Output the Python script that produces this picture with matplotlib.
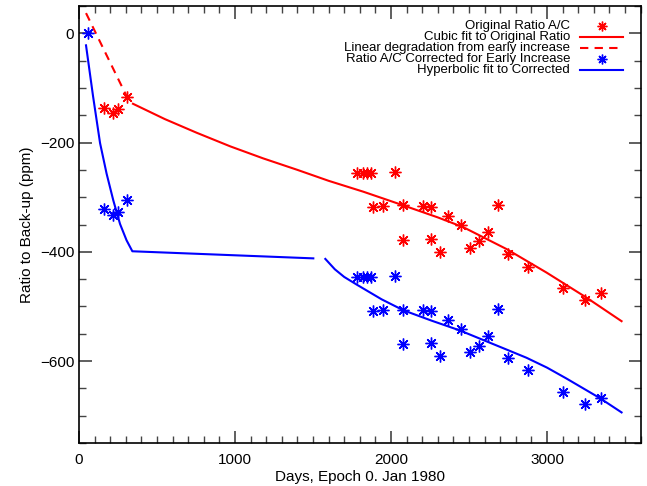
import matplotlib
matplotlib.use("Agg")
import matplotlib.pyplot as plt
from matplotlib.lines import Line2D
from matplotlib.ticker import MultipleLocator

plt.rcParams['font.family'] = ['Liberation Sans', 'DejaVu Sans']

# Original ratio A/C (red stars)
orig_days = [160, 218, 250, 308, 1782, 1821, 1846, 1872, 2027, 1887, 1946, 2075,
             2207, 2256, 2367, 2449, 2688, 2075, 2256, 2316, 2508, 2564, 2624,
             2752, 2876, 3105, 3244, 3346]
orig_ratio = [-136, -145, -138, -116, -256, -256, -256, -256, -254, -318, -317, -315,
              -317, -318, -335, -351, -315, -378, -376, -401, -393, -381, -364,
              -404, -427, -467, -488, -476]

# Corrected ratio (blue stars)
corr_days = [58, 160, 218, 250, 308, 1782, 1821, 1846, 1872, 2027, 1887, 1946, 2075,
             2207, 2256, 2367, 2449, 2688, 2075, 2256, 2316, 2508, 2564, 2624,
             2752, 2876, 3105, 3244, 3346]
corr_ratio = [0, -322, -333, -328, -306, -447, -447, -447, -447, -444, -508, -507, -506,
              -507, -508, -525, -541, -505, -568, -567, -591, -583, -573, -554,
              -595, -617, -657, -678, -668]

# Cubic fit to original ratio (red solid)
cubic_days = [346, 550, 754, 970, 1181, 1400, 1600, 1823, 2079, 2300, 2464, 2741,
              2997, 3254, 3478]
cubic_vals = [-129, -157, -182, -207, -229, -250, -270, -290, -315, -337, -355, -395,
              -438, -484, -527]

# Linear degradation from early increase (red dashed)
lin_days = [45, 305]
lin_vals = [37, -115]

# Hyperbolic fit to corrected (blue solid), two pieces
hyp1_days = [45, 90, 135, 177, 220, 263, 305, 342, 1502]
hyp1_vals = [-22, -115, -201, -257, -306, -349, -379, -399, -412]
hyp2_days = [1579, 1640, 1700, 1780, 1940, 2079, 2260, 2442, 2613, 2750, 2869, 3000,
             3125, 3340, 3478]
hyp2_vals = [-413, -432, -446, -460, -487, -507, -526, -544, -564, -580, -594, -612,
             -632, -668, -694]

W, H = 647, 486
fig = plt.figure(figsize=(W / 100, H / 100), dpi=100)
ax = fig.add_axes([79 / W, (H - 443) / H, (640.6 - 79) / W, (443 - 6) / H])

star = (8, 2, 0)
ax.plot(lin_days, lin_vals, color='red', lw=1.5, ls=(0, (4, 3)))
ax.plot(cubic_days, cubic_vals, color='red', lw=1.5)
ax.plot(hyp1_days, hyp1_vals, color='blue', lw=1.5)
ax.plot(hyp2_days, hyp2_vals, color='blue', lw=1.5)
ax.plot(orig_days, orig_ratio, ls='none', marker=star, ms=8.5, mew=1.0, color='red')
ax.plot(corr_days, corr_ratio, ls='none', marker=star, ms=8.5, mew=1.0, color='blue')

ax.set_xlim(0, 3600)
ax.set_ylim(-750, 50)
ax.xaxis.set_major_locator(MultipleLocator(1000))
ax.xaxis.set_minor_locator(MultipleLocator(100))
ax.yaxis.set_major_locator(MultipleLocator(200))
ax.yaxis.set_minor_locator(MultipleLocator(50))
ax.tick_params(which='both', direction='in', top=True, right=True, labelsize=11, color='#444444')
ax.tick_params(which='major', length=9, width=1.2)
ax.tick_params(which='minor', length=5, width=1.0)
ax.tick_params(axis='x', pad=7)
for s in ax.spines.values():
    s.set_linewidth(1.2)

ax.set_xlabel('Days, Epoch 0. Jan 1980', fontsize=11, labelpad=2)
ax.set_ylabel('Ratio to Back-up (ppm)', fontsize=11, labelpad=4)

# Legend (text right-aligned, symbols on the right)
labels = ['Original Ratio A/C', 'Cubic fit to Original Ratio',
          'Linear degradation from early increase',
          'Ratio A/C Corrected for Early Increase', 'Hyperbolic fit to Corrected']
ys = [26, 37, 48, 59, 70]
tx = 570
for lab, yp in zip(labels, ys):
    fig.text(tx / W, 1 - yp / H, lab, ha='right', va='center', fontsize=9.5)
x0, x1 = 580 / W, 623 / W
def fy(yp):
    return 1 - yp / H
fig.add_artist(Line2D([(x0 + x1) / 2], [fy(ys[0])], ls='none', marker=star, ms=7, mew=1.0, color='red'))
fig.add_artist(Line2D([x0, x1], [fy(ys[1])] * 2, color='red', lw=1.5))
fig.add_artist(Line2D([x0, x1], [fy(ys[2])] * 2, color='red', lw=1.5, ls=(0, (4, 3))))
fig.add_artist(Line2D([(x0 + x1) / 2], [fy(ys[3])], ls='none', marker=star, ms=7, mew=1.0, color='blue'))
fig.add_artist(Line2D([x0, x1], [fy(ys[4])] * 2, color='blue', lw=1.5))

fig.savefig('out.png', dpi=100)
